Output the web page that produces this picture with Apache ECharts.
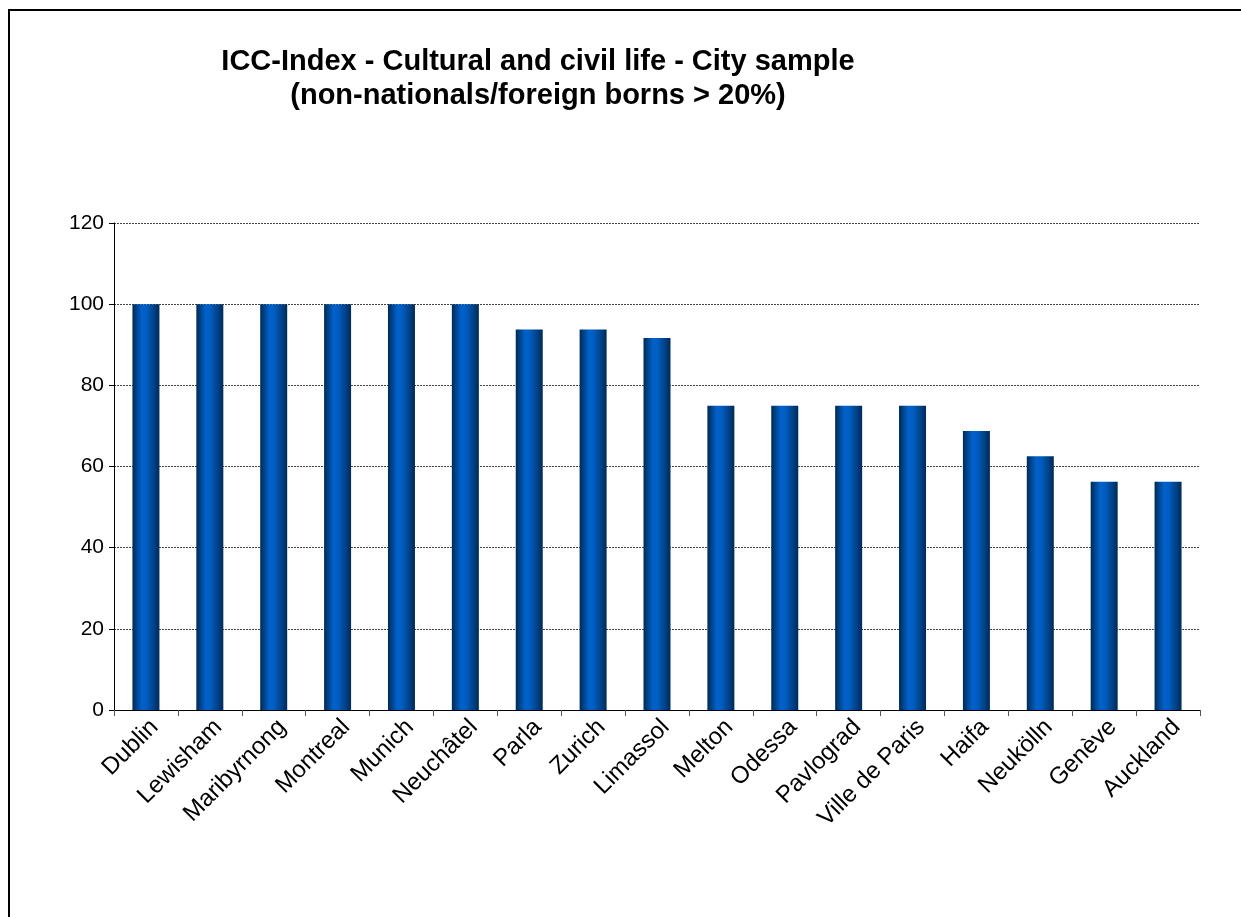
<!DOCTYPE html>
<html>
<head>
<meta charset="utf-8">
<script src="https://cdn.jsdelivr.net/npm/echarts@6/dist/echarts.min.js"></script>
<style>
  html, body { margin: 0; padding: 0; background: #fff; }
  #chart { width: 1241px; height: 917px; }
</style>
</head>
<body>
<div id="chart"></div>
<script>
const cities = ["Dublin", "Lewisham", "Maribyrnong", "Montreal", "Munich", "Neuchâtel", "Parla", "Zurich", "Limassol", "Melton", "Odessa", "Pavlograd", "Ville de Paris", "Haifa", "Neukölln", "Genève", "Auckland"];
const scores = [100, 100, 100, 100, 100, 100, 93.75, 93.75, 91.67, 75, 75, 75, 75, 68.75, 62.5, 56.25, 56.25];
const yTicks = [0, 20, 40, 60, 80, 100, 120];

const chart = echarts.init(document.getElementById("chart"));

// cylinder-ish shading like the original office chart
const barFill = new echarts.graphic.LinearGradient(0, 0, 1, 0, [
  { offset: 0, color: "#002a55" },
  { offset: 0.35, color: "#0062cc" },
  { offset: 0.55, color: "#005bbd" },
  { offset: 1, color: "#002b58" }
]);

const option = {
  animation: false,
  backgroundColor: "#ffffff",
  textStyle: { fontFamily: "Arial, 'Liberation Sans', sans-serif" },
  title: {
    text: "ICC-Index - Cultural and civil life - City sample\n(non-nationals/foreign borns > 20%)",
    left: 533,
    top: 40,
    textAlign: "center",
    textStyle: {
      fontSize: 29,
      fontWeight: "bold",
      color: "#000",
      lineHeight: 34,
      fontFamily: "Arial, 'Liberation Sans', sans-serif"
    }
  },
  graphic: [{
    type: "rect",
    shape: { x: 9, y: 10, width: 1300, height: 1000 },
    style: { fill: "none", stroke: "#000", lineWidth: 2 },
    silent: true
  }],
  grid: { left: 114, right: 41, top: 223, bottom: 207 },
  xAxis: {
    type: "category",
    data: cities,
    boundaryGap: true,
    axisLine: { lineStyle: { color: "#000", width: 1 } },
    axisTick: { show: true, length: 6, lineStyle: { color: "#555" } },
    axisLabel: {
      rotate: 45,
      interval: 0,
      fontSize: 24,
      color: "#000",
      margin: 5,
      verticalAlign: "top"
    }
  },
  yAxis: {
    type: "value",
    min: yTicks[0],
    max: yTicks[yTicks.length - 1],
    interval: 20,
    axisLine: { show: true, lineStyle: { color: "#000", width: 1 } },
    axisTick: { show: true, length: 5, lineStyle: { color: "#000" } },
    axisLabel: { fontSize: 21, color: "#000", margin: 10 },
    splitLine: { show: true, lineStyle: { color: "#444", type: [2, 1], width: 1 } }
  },
  series: [{
    type: "bar",
    data: scores,
    barWidth: 27,
    itemStyle: { color: barFill }
  }]
};

chart.setOption(option);
</script>
</body>
</html>
